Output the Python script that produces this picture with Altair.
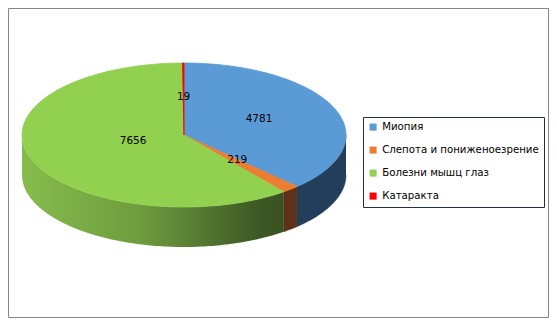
import altair as alt
import numpy as np
import pandas as pd

# ---- data ----
categories = ["Миопия", "Слепота и пониженоезрение", "Болезни мышц глаз", "Катаракта"]
values = [4781, 219, 7656, 19]

# ---- style ----
top_colors = ["#5B9BD5", "#ED7D31", "#92D050", "#FF0000"]
side_colors = ["#233E5A", "#5E3218", None, "#7F0000"]
green_side = alt.Gradient(
    gradient="linear",
    stops=[
        alt.GradientStop(color="#86BC4C", offset=0),
        alt.GradientStop(color="#6E9C3E", offset=0.45),
        alt.GradientStop(color="#3C5624", offset=0.92),
        alt.GradientStop(color="#3A5222", offset=1),
    ],
    x1=0, x2=1, y1=0, y2=0,
)

W, H = 540, 309
CX, CY, RX, RY, DEPTH = 176.0, 127.0, 162.0, 72.0, 40.0  # layout of the 3-D pie (pixels)
D = DEPTH / RY

total = float(sum(values))
cum = np.concatenate([[0.0], np.cumsum(values)]) / total * 360.0

top_rows, side_rows, label_rows = [], [], []
for i, cat in enumerate(categories):
    a0, a1 = cum[i], cum[i + 1]
    n = max(2, int(np.ceil(a1 - a0)) + 1)
    k = 0
    top_rows.append(dict(cat=cat, i=k, x=0.0, y=0.0)); k += 1
    for a in np.linspace(a0, a1, n):
        r = np.radians(a)
        top_rows.append(dict(cat=cat, i=k, x=np.sin(r), y=np.cos(r))); k += 1
    top_rows.append(dict(cat=cat, i=k, x=0.0, y=0.0))
    # visible front wall
    lo, hi = max(a0, 90.0), min(a1, 270.0)
    if hi > lo:
        m = max(2, int(np.ceil(hi - lo)) + 1)
        angs = np.linspace(lo, hi, m)
        k = 0
        for a in angs:
            r = np.radians(a)
            side_rows.append(dict(cat=cat, i=k, x=np.sin(r), y=np.cos(r))); k += 1
        for a in angs[::-1]:
            r = np.radians(a)
            side_rows.append(dict(cat=cat, i=k, x=np.sin(r), y=np.cos(r) - D)); k += 1
    # label at the slice centroid
    half = np.radians((a1 - a0) / 2.0)
    f = min(2.0 * np.sin(half) / (3.0 * half), 0.5)
    mid = np.radians((a0 + a1) / 2.0)
    label_rows.append(dict(cat=cat, text=str(values[i]), x=f * np.sin(mid), y=f * np.cos(mid) + 0.03))

top_df = pd.DataFrame(top_rows)
side_df = pd.DataFrame(side_rows)
label_df = pd.DataFrame(label_rows)

xs = alt.Scale(domain=[-CX / RX, (W - CX) / RX], nice=False, zero=False)
ys = alt.Scale(domain=[(CY - H) / RY, CY / RY], nice=False, zero=False)
X = alt.X("x:Q", scale=xs, axis=None)
Y = alt.Y("y:Q", scale=ys, axis=None)

layers = []
for i, cat in enumerate(categories):
    sub = side_df[side_df["cat"] == cat]
    if len(sub) == 0:
        continue
    col = side_colors[i]
    if col is None:
        mk = alt.Chart(sub).mark_line(fill=green_side, strokeWidth=0, interpolate="linear")
    else:
        mk = alt.Chart(sub).mark_line(fill=col, stroke=col, strokeWidth=0.6)
    layers.append(mk.encode(x=X, y=Y, order=alt.Order("i:Q")))

color_scale = alt.Scale(domain=categories, range=top_colors)
top = alt.Chart(top_df).mark_line(strokeWidth=0.8).encode(
    x=X, y=Y,
    order=alt.Order("i:Q"),
    detail="cat:N",
    fill=alt.Fill(
        "cat:N", scale=color_scale,
        legend=alt.Legend(
            title=None, orient="none", legendX=355, legendY=109,
            strokeColor="#1F3048", padding=5, rowPadding=12,
            symbolType="square", symbolSize=50, symbolStrokeWidth=0,
            labelFont="DejaVu Sans", labelFontSize=10.2, labelColor="#000000",
            labelOffset=4, labelLimit=300,
        ),
    ),
    stroke=alt.Stroke("cat:N", scale=color_scale, legend=None),
)
layers.append(top)

labels = alt.Chart(label_df).mark_text(
    font="DejaVu Sans", fontSize=10.5, color="#000000", align="center", baseline="middle"
).encode(x=X, y=Y, text="text:N")
layers.append(labels)

chart = alt.layer(*layers).properties(
    width=W, height=H, autosize=alt.AutoSizeParams(type="none"),
    padding={"left": 0, "top": 0, "right": 1, "bottom": 1},
).configure_view(stroke="#868686", strokeWidth=1)

chart.save("out.html", embed_options={"renderer": "svg", "actions": False})
